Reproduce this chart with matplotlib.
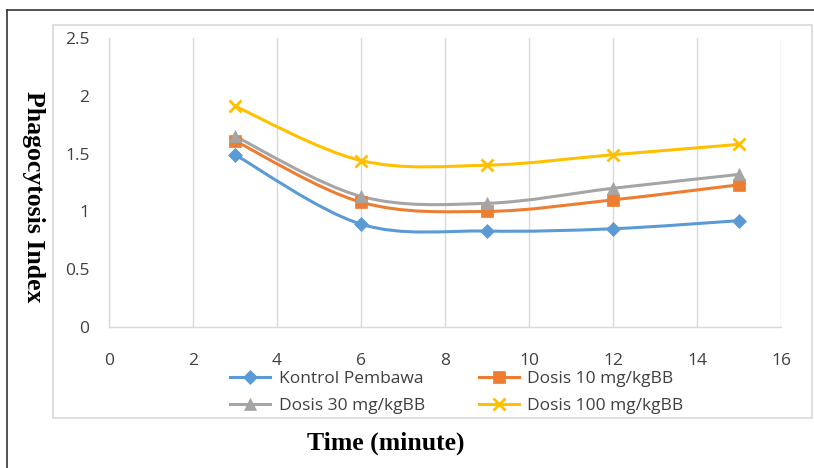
import matplotlib
matplotlib.use("Agg")
import matplotlib.pyplot as plt
from matplotlib.path import Path
from matplotlib.patches import PathPatch, Rectangle
from matplotlib.lines import Line2D
import numpy as np

time = [3, 6, 9, 12, 15]
kontrol = [1.49, 0.89, 0.83, 0.85, 0.92]
dosis10 = [1.61, 1.08, 1.00, 1.10, 1.23]
dosis30 = [1.65, 1.13, 1.07, 1.20, 1.32]
dosis100 = [1.91, 1.44, 1.40, 1.49, 1.58]
labels = ["Kontrol Pembawa", "Dosis 10 mg/kgBB", "Dosis 30 mg/kgBB", "Dosis 100 mg/kgBB"]
xticks = [0, 2, 4, 6, 8, 10, 12, 14, 16]
yticks = [0, 0.5, 1, 1.5, 2, 2.5]

colors = ["#5B9BD5", "#ED7D31", "#A5A5A5", "#FFC000"]
markers = ["D", "s", "^", "x"]
msizes = [7, 8, 8, 9]

W, H = 814, 468
fig = plt.figure(figsize=(W / 100, H / 100), dpi=100)
ax = fig.add_axes([109 / W, 1 - 327 / H, (781 - 109) / W, (327 - 38) / H])


def smooth_path(xs, ys):
    pts = np.column_stack([xs, ys]).astype(float)
    verts = [tuple(pts[0])]
    codes = [Path.MOVETO]
    n = len(pts)
    for i in range(n - 1):
        p0 = pts[i - 1] if i > 0 else pts[i]
        p1 = pts[i]
        p2 = pts[i + 1]
        p3 = pts[i + 2] if i + 2 < n else pts[i + 1]
        c1 = p1 + (p2 - p0) / 6.0
        c2 = p2 - (p3 - p1) / 6.0
        verts += [tuple(c1), tuple(c2), tuple(p2)]
        codes += [Path.CURVE4] * 3
    return Path(verts, codes)


series = [kontrol, dosis10, dosis30, dosis100]
handles = []
for s, c, m, ms in zip(series, colors, markers, msizes):
    patch = PathPatch(smooth_path(time, s), facecolor="none", edgecolor=c, lw=2.2, zorder=3)
    ax.add_patch(patch)
    mew = 2 if m == "x" else 0.5
    ax.plot(time, s, linestyle="none", marker=m, color=c, markersize=ms,
            markeredgewidth=mew, markeredgecolor=c, zorder=4)
    handles.append(Line2D([0], [0], color=c, lw=2.2, marker=m, markersize=ms,
                          markeredgewidth=mew, markeredgecolor=c))

ax.set_xlim(0, 16)
ax.set_ylim(0, 2.5)
ax.set_xticks(xticks)
ax.set_yticks(yticks)
ax.set_xticklabels([str(v) for v in xticks])
ax.set_yticklabels(["0", "0.5", "1", "1.5", "2", "2.5"])
ax.grid(axis="x", color="#D9D9D9", lw=1)
ax.set_axisbelow(True)
for side in ["top", "right"]:
    ax.spines[side].set_visible(False)
for side in ["left", "bottom"]:
    ax.spines[side].set_color("#D9D9D9")
    ax.spines[side].set_linewidth(1)
ax.tick_params(length=0, labelsize=12.5, colors="#404040", labelfontfamily="Open Sans")
ax.tick_params(axis="x", pad=19)
ax.tick_params(axis="y", pad=14)

# row-major order: Kontrol, Dosis10 / Dosis30, Dosis100 (legend fills column-major)
order = [0, 2, 1, 3]
leg = fig.legend([handles[i] for i in order], [labels[i] for i in order],
                 loc="upper left", bbox_to_anchor=(230 / W, 1 - 371 / H),
                 ncol=2, frameon=False, prop={"family": "Open Sans", "size": 12.5},
                 handlelength=2.3, handletextpad=0.5, columnspacing=3.1,
                 labelspacing=0.6, borderaxespad=0, borderpad=0)
for t in leg.get_texts():
    t.set_color("#404040")

# inner chart frame
fig.patches.append(Rectangle((53 / W, 1 - 418 / H), (812 - 53) / W, (418 - 25) / H,
                             transform=fig.transFigure, fill=False, edgecolor="#D9D9D9", lw=1.2))
# outer frame lines
fig.add_artist(Line2D([7 / W, 1], [1 - 10 / H, 1 - 10 / H], transform=fig.transFigure,
                      color="#333333", lw=1.2))
fig.add_artist(Line2D([7 / W, 7 / W], [1 - 10 / H, 0], transform=fig.transFigure,
                      color="#333333", lw=1.2))

fig.text(386 / W, 1 - 443 / H, "Time (minute)", ha="center", va="center",
         family="Liberation Serif", weight="bold", fontsize=18.5)
fig.text(33 / W, 1 - 197 / H, "Phagocytosis Index", ha="center", va="center",
         rotation=-90, family="Liberation Serif", weight="bold", fontsize=18.5)

fig.savefig("out.png", dpi=100)
